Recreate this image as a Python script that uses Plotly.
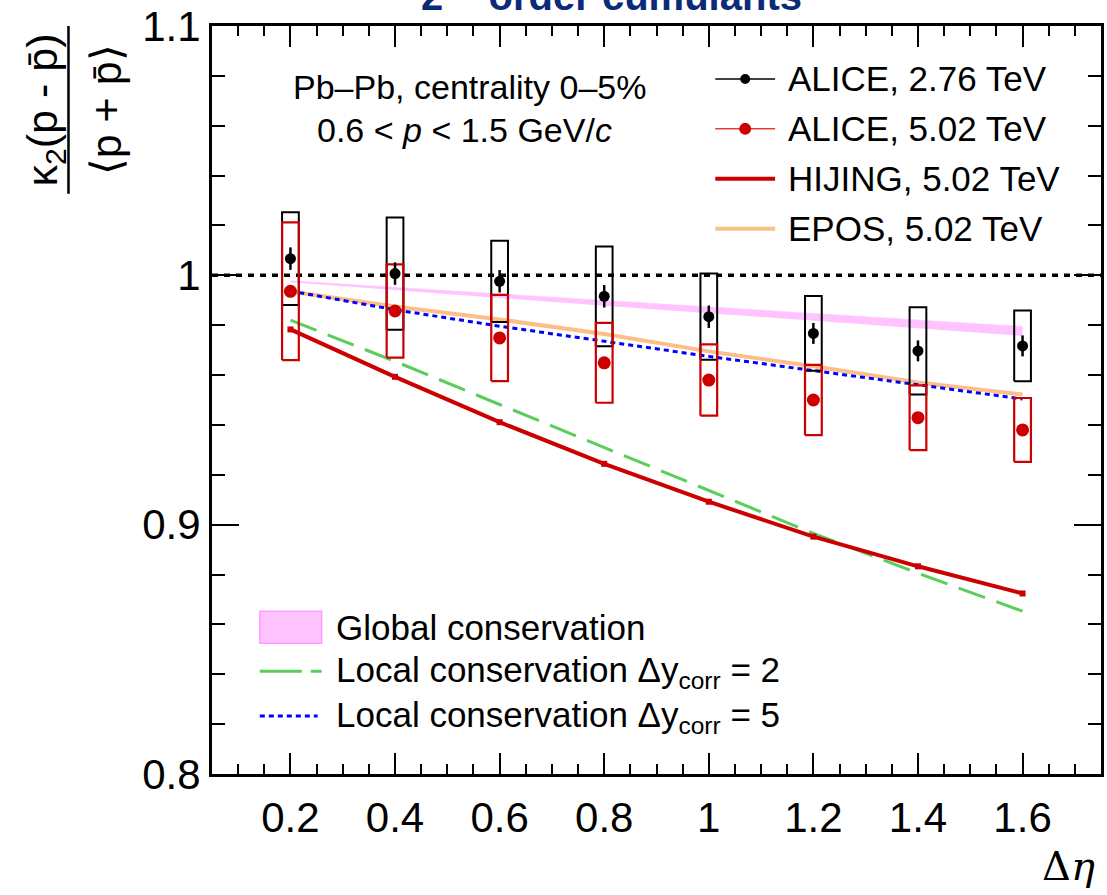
import plotly.graph_objects as go

# ---------------- data ----------------
delta_eta = [0.2, 0.4, 0.6, 0.8, 1.0, 1.2, 1.4, 1.6]

alice276 = [1.0067, 1.0007, 0.9976, 0.9916, 0.9834, 0.9767, 0.9697, 0.9717]
alice276_stat = [0.0045, 0.0045, 0.0045, 0.0045, 0.0045, 0.0042, 0.0042, 0.0042]
alice276_sys = [0.0186, 0.0225, 0.0163, 0.0200, 0.0173, 0.0150, 0.0175, 0.0142]

alice502 = [0.9936, 0.9857, 0.9749, 0.9649, 0.9580, 0.9500, 0.9429, 0.9380]
alice502_stat = [0.0015, 0.0015, 0.0015, 0.0015, 0.0015, 0.0015, 0.0015, 0.0015]
alice502_sys = [0.0276, 0.0187, 0.0173, 0.0160, 0.0143, 0.0141, 0.0130, 0.0128]

hijing = [0.9783, 0.9593, 0.9411, 0.9244, 0.9092, 0.8952, 0.8833, 0.8724]
epos = [0.9935, 0.9875, 0.9823, 0.9765, 0.9695, 0.9635, 0.9570, 0.9522]
local_dy2 = [0.9820, 0.9655, 0.9482, 0.9310, 0.9138, 0.8965, 0.8805, 0.8653]
local_dy5 = [0.9937, 0.9862, 0.9796, 0.9735, 0.9675, 0.9618, 0.9560, 0.9504]
global_hi = [0.9978, 0.9952, 0.9926, 0.9900, 0.9873, 0.9847, 0.9821, 0.9795]
global_lo = [0.9972, 0.9940, 0.9909, 0.9878, 0.9848, 0.9817, 0.9787, 0.9757]

reference_level = 1.0

x_tickvals = [0.2, 0.4, 0.6, 0.8, 1.0, 1.2, 1.4, 1.6]
x_ticktext = ["0.2", "0.4", "0.6", "0.8", "1", "1.2", "1.4", "1.6"]
y_tickvals = [0.8, 0.9, 1.0, 1.1]
y_ticktext = ["0.8", "0.9", "1", "1.1"]

legend_top = ["ALICE, 2.76 TeV", "ALICE, 5.02 TeV", "HIJING, 5.02 TeV", "EPOS, 5.02 TeV"]
legend_bottom = ["Global conservation",
                 "Local conservation \u0394y<sub>corr</sub> = 2",
                 "Local conservation \u0394y<sub>corr</sub> = 5"]

# ---------------- layout constants ----------------
W, H = 1107, 895
L, R, T, B = 212, 1104, 25, 774
XR = [0.05, 1.75]
YR = [0.8, 1.1]
FONT = "Liberation Sans, Arial, Helvetica, sans-serif"
BOX_HW = 0.016
LEG_SIZE = 35

RED = "#CC0000"
GREEN = "#5ACD5A"
BLUE = "#0000FF"
ORANGE = "#FDBF88"
PINK = "#FFC4FF"


def px2x(px):
    return (px - L) / (R - L)


def px2y(py):
    return (B - py) / (B - T)


def boxes(xs, ys, ss, hw):
    bx, by = [], []
    for x, y, s in zip(xs, ys, ss):
        bx += [x - hw, x + hw, x + hw, x - hw, x - hw, None]
        by += [y - s, y - s, y + s, y + s, y - s, None]
    return bx, by


fig = go.Figure()

# global conservation band
fig.add_trace(go.Scatter(x=delta_eta, y=global_lo, mode="lines",
                         line=dict(width=0, color=PINK), showlegend=False))
fig.add_trace(go.Scatter(x=delta_eta, y=global_hi, mode="lines", fill="tonexty",
                         fillcolor=PINK, line=dict(width=0.5, color=PINK), showlegend=False))

# reference line at 1
fig.add_trace(go.Scatter(x=XR, y=[reference_level, reference_level], mode="lines",
                         line=dict(color="black", width=3.5, dash="6px,6px"), showlegend=False))

# models
fig.add_trace(go.Scatter(x=delta_eta, y=epos, mode="lines",
                         line=dict(color=ORANGE, width=4), showlegend=False))
fig.add_trace(go.Scatter(x=delta_eta, y=local_dy5, mode="lines",
                         line=dict(color=BLUE, width=3, dash="5px,4px"), showlegend=False))
fig.add_trace(go.Scatter(x=delta_eta, y=local_dy2, mode="lines",
                         line=dict(color=GREEN, width=3, dash="28px,12px"), showlegend=False))
fig.add_trace(go.Scatter(x=delta_eta, y=hijing, mode="lines+markers",
                         line=dict(color=RED, width=4),
                         marker=dict(symbol="square", size=6, color=RED), showlegend=False))

# systematic boxes
bx, by = boxes(delta_eta, alice276, alice276_sys, BOX_HW)
fig.add_trace(go.Scatter(x=bx, y=by, mode="lines", line=dict(color="black", width=2),
                         showlegend=False, connectgaps=False))
bx, by = boxes(delta_eta, alice502, alice502_sys, BOX_HW)
fig.add_trace(go.Scatter(x=bx, y=by, mode="lines", line=dict(color=RED, width=2.2),
                         showlegend=False, connectgaps=False))

# data points
fig.add_trace(go.Scatter(x=delta_eta, y=alice502, mode="markers",
                         marker=dict(color=RED, size=13),
                         error_y=dict(type="data", array=alice502_stat, color=RED, thickness=2, width=0),
                         showlegend=False))
fig.add_trace(go.Scatter(x=delta_eta, y=alice276, mode="markers",
                         marker=dict(color="black", size=11),
                         error_y=dict(type="data", array=alice276_stat, color="black", thickness=2.5, width=0),
                         showlegend=False))

shapes = []
annotations = []

# ---------------- top-right legend ----------------
leg_rows = [78, 128, 178, 228]
lx0, lx1, ltext = 717, 777, 788
leg_styles = [("black", 1.5, "black", 5), ("#E03C3C", 1.5, RED, 6), (RED, 4, None, 0), (ORANGE, 4, None, 0)]
for row, label, (lc, lw, mc, mr) in zip(leg_rows, legend_top, leg_styles):
    shapes.append(dict(type="line", xref="paper", yref="paper",
                       x0=px2x(lx0), x1=px2x(lx1), y0=px2y(row), y1=px2y(row),
                       line=dict(color=lc, width=lw)))
    if mc:
        cx = (lx0 + lx1) / 2
        shapes.append(dict(type="circle", xref="paper", yref="paper",
                           x0=px2x(cx - mr), x1=px2x(cx + mr), y0=px2y(row + mr), y1=px2y(row - mr),
                           fillcolor=mc, line=dict(color=mc, width=0)))
    annotations.append(dict(text=label, xref="paper", yref="paper", x=px2x(ltext), y=px2y(row),
                            xanchor="left", yanchor="middle", showarrow=False,
                            font=dict(family=FONT, size=LEG_SIZE, color="black")))

# ---------------- bottom-left legend ----------------
shapes.append(dict(type="rect", xref="paper", yref="paper",
                   x0=px2x(260), x1=px2x(322), y0=px2y(643), y1=px2y(611),
                   fillcolor=PINK, line=dict(color="#FF9CFF", width=1.5)))
shapes.append(dict(type="line", xref="paper", yref="paper",
                   x0=px2x(260), x1=px2x(322), y0=px2y(671), y1=px2y(671),
                   line=dict(color=GREEN, width=3, dash="42px,9px")))
shapes.append(dict(type="line", xref="paper", yref="paper",
                   x0=px2x(260), x1=px2x(318), y0=px2y(716), y1=px2y(716),
                   line=dict(color=BLUE, width=3, dash="5px,4px")))
for row, label in zip([627, 672, 717], legend_bottom):
    annotations.append(dict(text=label, xref="paper", yref="paper", x=px2x(334), y=px2y(row),
                            xanchor="left", yanchor="middle", showarrow=False,
                            font=dict(family=FONT, size=LEG_SIZE, color="black")))

# ---------------- info text ----------------
annotations.append(dict(text="Pb\u2013Pb, centrality 0\u20135%", xref="paper", yref="paper",
                        x=px2x(470), y=px2y(86), xanchor="center", yanchor="middle", showarrow=False,
                        font=dict(family=FONT, size=34, color="black")))
annotations.append(dict(text="0.6 &lt; <i>p</i> &lt; 1.5 GeV/<i>c</i>", xref="paper", yref="paper",
                        x=px2x(465), y=px2y(129), xanchor="center", yanchor="middle", showarrow=False,
                        font=dict(family=FONT, size=34, color="black")))

# title (cut at the top of the picture, as in the reference)
annotations.append(dict(text="<b>2<sup>nd</sup> order cumulants</b>", xref="paper", yref="paper",
                        x=px2x(613), y=px2y(19), xanchor="center", yanchor="bottom", showarrow=False,
                        font=dict(family=FONT, size=40, color="#0B2A78")))

# x-axis title
annotations.append(dict(text="\u0394<i>\u03b7</i>", xref="paper", yref="paper",
                        x=px2x(1100), y=px2y(866), xanchor="right", yanchor="middle", showarrow=False,
                        font=dict(family="DejaVu Serif, serif", size=40, color="black")))

# y-axis title as a fraction
annotations.append(dict(text="\u03ba<sub>2</sub>(p - p\u0304)", xref="paper", yref="paper",
                        x=px2x(44), y=px2y(109), xanchor="center", yanchor="middle", showarrow=False,
                        textangle=-90, font=dict(family=FONT, size=43, color="black")))
annotations.append(dict(text="\u27e8p + p\u0304\u27e9", xref="paper", yref="paper",
                        x=px2x(106), y=px2y(109), xanchor="center", yanchor="middle", showarrow=False,
                        textangle=-90, font=dict(family=FONT, size=43, color="black")))
shapes.append(dict(type="line", xref="paper", yref="paper",
                   x0=px2x(68), x1=px2x(68), y0=px2y(25), y1=px2y(193),
                   line=dict(color="black", width=2.5)))

axis_common = dict(showline=True, linecolor="black", linewidth=3, mirror="allticks",
                   ticks="inside", tickcolor="black", tickwidth=2, showgrid=False, zeroline=False,
                   tickfont=dict(family=FONT, size=42, color="black"))

fig.update_layout(
    width=W, height=H,
    margin=dict(l=L, r=W - R, t=T, b=H - B, pad=0),
    paper_bgcolor="white", plot_bgcolor="white",
    showlegend=False,
    shapes=shapes, annotations=annotations,
    xaxis=dict(range=XR, tickvals=x_tickvals, ticktext=x_ticktext, ticklen=21,
               ticklabelstandoff=5,
               minor=dict(dtick=0.05, tick0=0.0, ticks="inside", ticklen=10, tickwidth=2, tickcolor="black"),
               **axis_common),
    yaxis=dict(range=YR, tickvals=y_tickvals, ticktext=y_ticktext, ticklen=27,
               ticklabelstandoff=0,
               minor=dict(dtick=0.02, tick0=0.8, ticks="inside", ticklen=13, tickwidth=2, tickcolor="black"),
               **axis_common),
)

fig.write_html("out.html", config={"displayModeBar": False},
               post_script="document.body.style.margin='0px';document.body.style.overflow='hidden';")
